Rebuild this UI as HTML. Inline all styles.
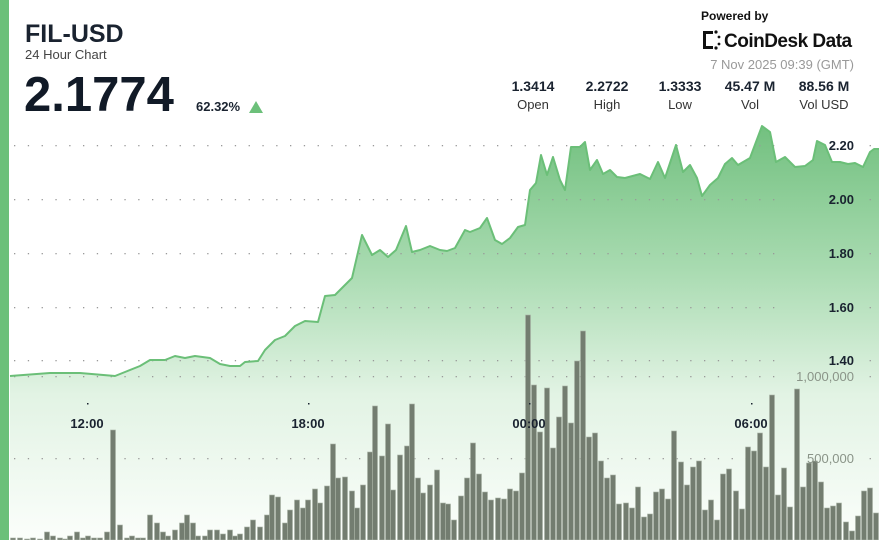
<!DOCTYPE html>
<html><head><meta charset="utf-8"><style>
body{margin:0;width:879px;height:540px;overflow:hidden;background:#fff;font-family:"Liberation Sans","DejaVu Sans",sans-serif;}
svg{position:absolute;left:0;top:0}
</style></head><body>
<svg id="s" width="879" height="540" viewBox="0 0 879 540" xmlns="http://www.w3.org/2000/svg">
<defs>
<linearGradient id="g" gradientUnits="userSpaceOnUse" x1="0" y1="125" x2="0" y2="540">
<stop offset="0" stop-color="#72c07f"/>
<stop offset="0.35" stop-color="#a9dbb1"/>
<stop offset="0.65" stop-color="#e2f3e4"/>
<stop offset="1" stop-color="#fbfefb"/>
</linearGradient>
</defs>
<rect x="0" y="0" width="9" height="540" fill="#6cc07a"/>
<path id="area" fill="url(#g)" stroke="none"/>
<g id="grid"></g>
<g id="bars" fill="#737d70" stroke="#a9b3a6" stroke-width="0.6"></g>
<path id="line" fill="none" stroke="#6bbf78" stroke-width="2" stroke-linejoin="round"/>
<g font-weight="bold" font-size="13" fill="#1a2330" text-anchor="middle">
<text x="87" y="428">12:00</text><text x="308" y="428">18:00</text><text x="529" y="428">00:00</text><text x="751" y="428">06:00</text>
</g>
<g fill="#1a2330"><rect x="87" y="403" width="1.5" height="1.5"/><rect x="308" y="403" width="1.5" height="1.5"/><rect x="529" y="403" width="1.5" height="1.5"/><rect x="751" y="403" width="1.5" height="1.5"/></g>
<g font-weight="bold" font-size="13" fill="#1a2330" text-anchor="end">
<text x="854" y="150">2.20</text><text x="854" y="204">2.00</text><text x="854" y="258">1.80</text><text x="854" y="312">1.60</text><text x="854" y="365">1.40</text>
</g>
<g font-size="13" fill="#8a9488" text-anchor="end">
<text x="854" y="381">1,000,000</text><text x="854" y="463">500,000</text>
</g>
<text x="25" y="42" font-size="25" font-weight="bold" fill="#1a2330">FIL-USD</text>
<text x="25" y="59" font-size="13" fill="#444">24 Hour Chart</text>
<text x="24" y="111" font-size="49" font-weight="bold" fill="#111a27">2.1774</text>
<text x="196" y="111" font-size="13" font-weight="bold" fill="#1a2330">62.32%</text>
<polygon points="249,113 263,113 256,101" fill="#6cc07a"/>
<text x="701" y="20" font-size="12" font-weight="bold" fill="#111">Powered by</text>
<g fill="#111"><rect x="703" y="31" width="3" height="18"/><rect x="703" y="31" width="10" height="3"/><rect x="703" y="46" width="10" height="3"/><circle cx="716" cy="32" r="1.6"/><circle cx="716" cy="48" r="1.6"/><circle cx="719" cy="37" r="1.4"/><circle cx="719" cy="44" r="1.4"/></g>
<text x="724" y="47" font-size="19" font-weight="bold" fill="#111" letter-spacing="-0.5">CoinDesk Data</text>
<text x="854" y="69" font-size="13" fill="#999" text-anchor="end">7 Nov 2025 09:39 (GMT)</text>
<g font-size="14" font-weight="bold" fill="#1a2330" text-anchor="middle">
<text x="533" y="91">1.3414</text><text x="607" y="91">2.2722</text><text x="680" y="91">1.3333</text><text x="750" y="91">45.47 M</text><text x="824" y="91">88.56 M</text>
</g>
<g font-size="13" fill="#333" text-anchor="middle">
<text x="533" y="109">Open</text><text x="607" y="109">High</text><text x="680" y="109">Low</text><text x="750" y="109">Vol</text><text x="824" y="109">Vol USD</text>
</g>
</svg>
<script>
var NS="http://www.w3.org/2000/svg";
var pts=[[10,376],[50,373],[80,373],[115,376],[125,372],[140,366],[150,360],[165,360],[175,356],[185,358],[195,356],[210,358],[220,364],[230,366],[240,366],[245,362],[258,361],[265,350],[275,340],[285,336],[295,326],[305,321],[318,322],[325,296],[335,295],[345,285],[352,278],[362,235],[372,255],[380,250],[388,257],[396,250],[406,226],[412,252],[420,250],[430,246],[440,250],[447,251],[455,248],[465,230],[470,232],[480,228],[487,218],[495,240],[502,244],[510,238],[518,227],[525,225],[530,190],[536,183],[541,155],[547,175],[553,157],[560,180],[565,190],[571,147],[580,147],[585,142],[590,170],[597,160],[603,174],[610,170],[617,177],[625,178],[640,174],[650,179],[658,162],[665,178],[676,145],[683,172],[690,165],[697,178],[702,196],[710,185],[718,178],[725,164],[732,158],[738,165],[750,158],[762,126],[770,132],[776,162],[785,157],[795,167],[805,166],[813,160],[817,141],[825,145],[832,162],[840,162],[848,164],[855,163],[863,167],[870,152],[874,149],[879,149]];
var d="M"+pts.map(function(p){return p[0]+","+p[1]}).join(" L");
document.getElementById("line").setAttribute("d",d);
document.getElementById("area").setAttribute("d",d+" L879,540 L10,540 Z");
var bars=[[13,2],[20,2],[27,1],[33,2],[40,1],[47,8],[53,4],[60,2],[65,1],[70,4],[77,8],[83,2],[88,4],[94,2],[100,2],[107,8],[113,110],[120,15],[127,2],[132,4],[138,2],[143,2],[150,25],[157,17],[163,8],[168,4],[175,10],[182,17],[187,25],[193,17],[198,4],[205,4],[210,10],[217,10],[223,6],[230,10],[235,4],[240,6],[247,13],[253,20],[260,13],[267,25],[272,45],[278,43],[285,17],[290,30],[297,40],[303,32],[308,40],[315,51],[320,37],[327,54],[333,96],[338,62],[345,63],[352,49],[357,32],[363,55],[370,88],[375,134],[382,84],[388,116],[393,50],[400,85],[407,94],[412,136],[418,62],[423,47],[430,55],[437,70],[443,37],[448,36],[454,20],[461,44],[467,62],[473,97],[479,66],[485,48],[491,40],[498,42],[504,41],[510,51],[516,49],[522,67],[528,225],[534,155],[540,108],[547,152],[553,92],[559,123],[565,154],[571,117],[577,179],[583,209],[589,103],[595,107],[601,79],[607,62],[613,65],[619,36],[626,37],[632,32],[638,53],[644,23],[650,26],[656,48],[662,51],[668,41],[674,109],[681,78],[687,55],[693,73],[699,79],[705,30],[711,40],[717,20],[723,66],[729,71],[736,49],[742,31],[748,93],[754,89],[760,107],[766,73],[772,145],[778,45],[784,72],[790,33],[797,151],[803,53],[809,77],[815,79],[821,58],[827,32],[833,34],[839,37],[846,18],[852,9],[858,24],[864,49],[870,52],[876,27]];
var bg=document.getElementById("bars");
bars.forEach(function(b){var r=document.createElementNS(NS,"rect");r.setAttribute("x",b[0]-2.5);r.setAttribute("y",540-b[1]);r.setAttribute("width",5);r.setAttribute("height",b[1]);bg.appendChild(r);});
var gg=document.getElementById("grid");
[145,199,253,307,360,376,458].forEach(function(y){for(var x=14;x<879;x+=13.8){if(x>785&&x<858)continue;var c=document.createElementNS(NS,"rect");c.setAttribute("x",x);c.setAttribute("y",y);c.setAttribute("width",1.3);c.setAttribute("height",1.3);c.setAttribute("fill","#999");gg.appendChild(c);}});
</script>
</body></html>
